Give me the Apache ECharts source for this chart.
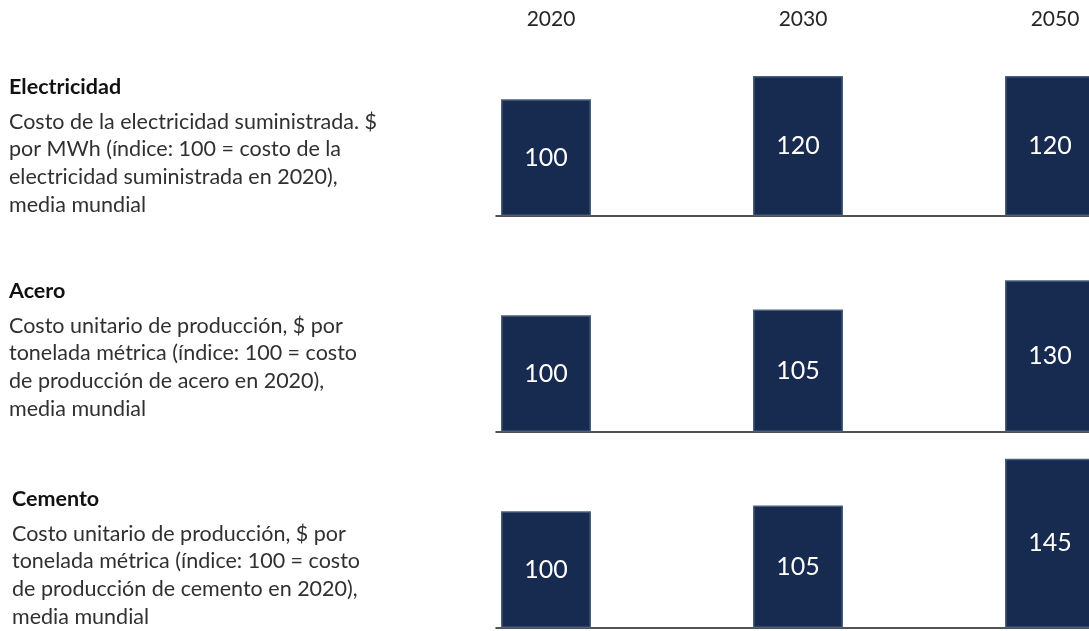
<!DOCTYPE html>
<html>
<head>
<meta charset="utf-8">
<script src="https://cdn.jsdelivr.net/npm/echarts@6/dist/echarts.min.js"></script>
<style>
  html, body { margin: 0; padding: 0; background: #ffffff; }
  #chart { width: 1089px; height: 631px; }
</style>
</head>
<body>
<div id="chart"></div>
<script>
// ---- Data ----
const years = ['2020', '2030', '2050'];
const sectors = ['Electricidad', 'Acero', 'Cemento'];
const descElectricidad = ['Costo de la electricidad suministrada. $', 'por MWh (índice: 100 = costo de la', 'electricidad suministrada en 2020),', 'media mundial'];
const descAcero = ['Costo unitario de producción, $ por', 'tonelada métrica (índice: 100 = costo', 'de producción de acero en 2020),', 'media mundial'];
const descCemento = ['Costo unitario de producción, $ por', 'tonelada métrica (índice: 100 = costo', 'de producción de cemento en 2020),', 'media mundial'];
const electricidad = [100, 120, 120];
const acero = [100, 105, 130];
const cemento = [100, 105, 145];

// ---- Layout ----
const FONT = 'Lato';
const rowValues = [electricidad, acero, cemento];
const rowDescs = [descElectricidad, descAcero, descCemento];
const gridTops = [41, 257, 453];
const gridH = 175;
const titleTops = [76, 280, 488];
const titleLefts = [9, 9, 12];

// bar grids (0..2) and baseline grids (3..5)
const grids = [];
gridTops.forEach(t => grids.push({ left: 420, width: 756, top: t, height: gridH, outerBoundsMode: 'none', containLabel: false }));
gridTops.forEach(t => grids.push({ left: 496, right: 0, top: t, height: gridH, outerBoundsMode: 'none', containLabel: false }));

const xAxes = [];
gridTops.forEach((t, i) => xAxes.push({
  type: 'category', gridIndex: i, data: years, boundaryGap: true,
  axisLine: { show: false }, axisTick: { show: false }, axisLabel: { show: false }, splitLine: { show: false }
}));
gridTops.forEach((t, i) => xAxes.push({
  type: 'value', gridIndex: 3 + i, min: 0, max: 1, position: 'bottom',
  axisLine: { show: true, onZero: false, lineStyle: { color: '#1a1a1a', width: 1.5 } },
  axisTick: { show: false }, axisLabel: { show: false }, splitLine: { show: false }
}));
// year labels on top of the first row
xAxes.push({
  type: 'category', gridIndex: 0, data: years, boundaryGap: true, position: 'top',
  axisLine: { show: false }, axisTick: { show: false }, splitLine: { show: false },
  axisLabel: { show: true, margin: 11, padding: [0, 0, 0, 10], color: '#262626', fontSize: 21, fontFamily: FONT }
});

const yAxes = [];
gridTops.forEach((t, i) => yAxes.push({ type: 'value', gridIndex: i, min: 0, max: 150, show: false }));
gridTops.forEach((t, i) => yAxes.push({ type: 'value', gridIndex: 3 + i, min: 0, max: 1, show: false }));

const series = rowValues.map((vals, i) => ({
  type: 'bar', name: sectors[i], xAxisIndex: i, yAxisIndex: i,
  barWidth: 90,
  data: vals,
  itemStyle: { color: '#172a4f', borderColor: '#4a5f7c', borderWidth: 1.5 },
  label: {
    show: true, position: 'inside', color: '#ffffff', fontSize: 25, fontFamily: FONT
  },
  silent: true, animation: false
}));

const titles = sectors.map((s, i) => ({
  text: s,
  subtext: rowDescs[i].join('\n'),
  left: titleLefts[i], top: titleTops[i], padding: 0, itemGap: 10,
  textStyle: { fontFamily: FONT, fontSize: 21.5, fontWeight: 'bold', color: '#111111', lineHeight: 22 },
  subtextStyle: { fontFamily: FONT, fontSize: 21.5, color: '#303030', lineHeight: 27.6 }
}));

const chart = echarts.init(document.getElementById('chart'), null, { renderer: 'canvas' });
chart.setOption({
  backgroundColor: '#ffffff',
  animation: false,
  title: titles,
  grid: grids,
  xAxis: xAxes,
  yAxis: yAxes,
  series: series
});
</script>
</body>
</html>
